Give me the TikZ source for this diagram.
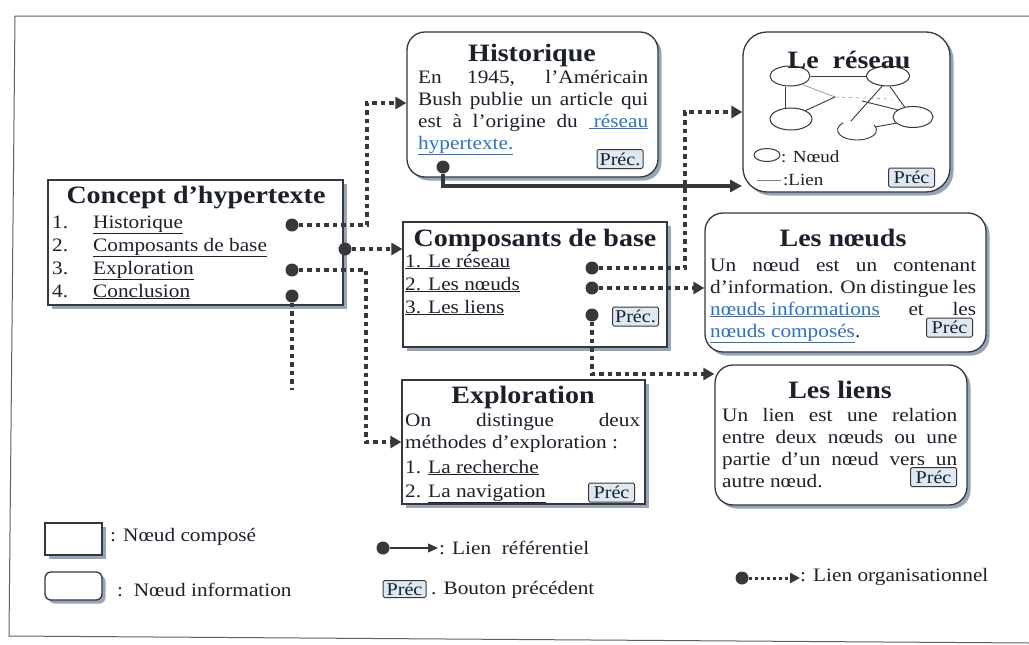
\documentclass[tikz,border=0pt]{standalone}
\usepackage{fontspec}
\setmainfont[FakeStretch=1.12]{Liberation Serif}
\usetikzlibrary{arrows.meta,shapes.geometric,shadows}

\definecolor{inkc}{RGB}{28,32,42}
\definecolor{darkc}{RGB}{55,55,60}
\definecolor{linkc}{RGB}{45,115,195}
\definecolor{btnc}{RGB}{222,233,243}
\definecolor{shadowc}{RGB}{150,165,185}
\definecolor{framec}{RGB}{95,95,95}

\newcommand\undl[1]{\underline{#1}}
\newcommand\lnk[1]{{\color{linkc}\underline{#1}}}

\tikzset{
  boxbase/.style={draw=darkc, line width=1.3pt, fill=white, inner sep=0pt,
    drop shadow={shadow xshift=3.5pt, shadow yshift=-3.5pt, fill=shadowc, opacity=1}},
  compbox/.style={boxbase, rectangle},
  infobox/.style={boxbase, rectangle, rounded corners=18pt},
  boxtitle/.style={font=\fontsize{25}{28}\selectfont\bfseries, text=inkc, inner sep=0pt},
  body/.style={font=\fontsize{19}{22}\selectfont, text=inkc, inner sep=0pt},
  para/.style={body, align=justify, anchor=base west},
  item/.style={body, anchor=base west},
  note/.style={body, anchor=west},
  btn/.style={draw=darkc, line width=1pt, fill=btnc, rounded corners=1.5pt,
    font=\fontsize{18}{20}\selectfont, text=inkc, inner sep=0pt,
    minimum width=46pt, minimum height=19pt},
  knob/.style={circle, fill=darkc, inner sep=0pt, minimum size=13pt},
  orglink/.style={draw=darkc, line width=4.5pt, dash pattern=on 4.5pt off 4pt},
  orgarrow/.style={orglink, -{Triangle[length=11pt,width=12pt]}},
  reflink/.style={draw=darkc, line width=3.5pt, -{Triangle[length=12pt,width=12pt]}},
  netnode/.style={ellipse, draw=darkc, line width=1pt, inner sep=0pt},
  netlink/.style={draw=darkc, line width=0.9pt},
}

\begin{document}
\begin{tikzpicture}[x=1pt,y=-1pt]
\useasboundingbox (0,0) rectangle (1029,645);

% outer frame
\draw[framec, line width=1pt] (1029,16) -- (15,16) -- (9,636) -- (1029,643);

% ---- Concept d'hypertexte (composed node)
\node[compbox, minimum width=295pt, minimum height=125pt] (cbox) at (195.5,242.5) {};
\node[boxtitle] (ctitle) at (196,198) {Concept d'hypertexte};
\node[item] (c1n) at (52,228) {1.};
\node[item] (c1) at (93,228) {\undl{Historique}};
\node[item] (c2n) at (52,251) {2.};
\node[item] (c2) at (93,251) {\undl{Composants de base}};
\node[item] (c3n) at (52,274) {3.};
\node[item] (c3) at (93,274) {\undl{Exploration}};
\node[item] (c4n) at (52,297) {4.};
\node[item] (c4) at (93,297) {\undl{Conclusion}};
\node[knob] (d1) at (292,225) {};
\node[knob] (d2) at (345,249) {};
\node[knob] (d3) at (292,270) {};
\node[knob] (d4) at (292,296) {};

% ---- Historique (information node)
\node[infobox, minimum width=251pt, minimum height=145pt] (hbox) at (532.5,104.5) {};
\node[boxtitle] (htitle) at (532,55) {Historique};
\node[para, text width=230pt] (hbody) at (418,83)
  {En 1945, l'Américain\linebreak Bush publie un article qui\linebreak
   est à l'origine du \lnk{\ réseau}\linebreak \lnk{hypertexte.}};
\node[btn] (hbtn) at (620,159) {Préc.};
\node[knob] (hdot) at (443,167) {};

% ---- Le réseau (information node)
\node[infobox, rounded corners=24pt, minimum width=207pt, minimum height=160pt] (rbox) at (846.5,112) {};
\node[netnode, minimum width=40pt, minimum height=20pt] (e1) at (790,76) {};
\node[netnode, minimum width=43pt, minimum height=20pt] (e2) at (888,76) {};
\node[netnode, minimum width=42pt, minimum height=22pt] (e3) at (791,119) {};
\node[netnode, minimum width=40pt, minimum height=21pt] (e5) at (913,117) {};
\coordinate (e4) at (857,130);
\coordinate (e4top) at (851,121);
\coordinate (e4right) at (875,127);
\coordinate (nc) at (835,97);
\coordinate (nc2) at (892,99);
\coordinate (nc3) at (862,101);
\draw[netlink] (e4) ++(-30:19.5 and 10) arc[start angle=-30, end angle=225, x radius=19.5, y radius=10];
\draw[netlink] (e1.east) -- (e2.west);
\draw[netlink] ([xshift=-5pt]e1.south) -- ([xshift=-6pt]e3.north);
\draw[netlink, draw=darkc!45] (e1.-35) -- (nc);
\draw[netlink] (e3.30) -- (nc);
\draw[netlink, draw=darkc!40, dash pattern=on 3pt off 4pt] (nc) -- (nc2);
\draw[netlink] (e2.-120) -- (e4top);
\draw[netlink] (e2.-80) -- (e5.130);
\draw[netlink] (nc3) -- (e5.155);
\draw[netlink] (e4right) -- (e5.200);
\node[boxtitle] (rtitle) at (849,60) {Le\ \ réseau};
\node[netnode, minimum width=26pt, minimum height=13pt] (lgell) at (767,155) {};
\node[note, font=\fontsize{17}{19}\selectfont] (lgelltxt) at (781,157) {: Nœud};
\coordinate (lgl1) at (757,180);
\coordinate (lgl2) at (781,180);
\draw[draw=gray, line width=1pt] (lgl1) -- (lgl2);
\node[note, font=\fontsize{17}{19}\selectfont] (lgltxt) at (783,180) {:Lien};
\node[btn] (rbtn) at (911.5,177.5) {Préc};

% ---- Composants de base (composed node)
\node[compbox, minimum width=264pt, minimum height=125pt] (cbbox) at (535,284.5) {};
\node[boxtitle] (cbtitle) at (535,240) {Composants de base};
\node[item] (cb1) at (405,267) {\undl{1. Le réseau}};
\node[item] (cb2) at (405,290) {\undl{2. Les nœuds}};
\node[item] (cb3) at (405,313) {\undl{3. Les liens}};
\node[knob] (nd1) at (592,268) {};
\node[knob] (nd2) at (592,288) {};
\node[knob] (nd3) at (592,315) {};
\node[btn] (cbbtn) at (635.5,316.5) {Préc.};

% ---- Les nœuds (information node)
\node[infobox, minimum width=281pt, minimum height=139pt] (nbox) at (845.5,282.5) {};
\node[boxtitle] (ntitle) at (843,238) {Les nœuds};
\node[para, text width=266pt] (nbody) at (710,271)
  {Un nœud est un contenant\linebreak d'information. On distingue les\linebreak
   \lnk{nœuds informations} et les\linebreak \lnk{nœuds composés}.};
\node[btn] (nbtn) at (949.5,327.5) {Préc};

% ---- Les liens (information node)
\node[infobox, minimum width=252pt, minimum height=140pt] (lbox) at (841,435) {};
\node[boxtitle] (ltitle) at (840,390) {Les liens};
\node[para, text width=235pt] (lbody) at (722,421)
  {Un lien est une relation\linebreak entre deux nœuds ou une\linebreak
   partie d'un nœud vers un\linebreak autre nœud.};
\node[btn] (lbtn) at (933.5,477) {Préc};

% ---- Exploration (composed node)
\node[compbox, minimum width=243pt, minimum height=124pt] (ebox) at (523.5,442) {};
\node[boxtitle] (etitle) at (523,397) {Exploration};
\node[para, text width=235pt] (ebody) at (405,426)
  {On distingue deux\linebreak méthodes d'exploration :};
\node[item] (e1t) at (405,473) {1. \undl{La recherche}};
\node[item] (e2t) at (405,497) {2. \undl{La navigation}};
\node[btn] (ebtn) at (611.5,492.5) {Préc};

% ---- organisational links
\coordinate (k1) at (685,112);
\coordinate (k2) at (367,103);
\coordinate (k3) at (366,442);
\coordinate (k4) at (292,390);
\coordinate (k5) at (592,374);
\draw[orgarrow] (d1) -| (k2) -- (hbox.west |- k2);
\draw[orgarrow] (d2) -- (cbbox.west |- d2);
\draw[orgarrow] (d3) -| (k3) -- (ebox.west |- k3);
\draw[orglink] (d4) -- (k4);
\draw[orgarrow] (nd1) -| (k1) -- (rbox.west |- k1);
\draw[orgarrow] (nd2) -- (nbox.west |- nd2);
\draw[orgarrow] (nd3) |- (lbox.west |- k5);

% ---- referential link
\coordinate (rin) at (742,186);
\draw[reflink] (hdot) |- (rin);

% ---- legend
\node[compbox, minimum width=57pt, minimum height=32pt] (lgcomp) at (73.5,539) {};
\node[note] (lgcomptxt) at (110,537) {: Nœud composé};
\node[infobox, rounded corners=6pt, minimum width=57pt, minimum height=28pt] (lginfo) at (73.5,586) {};
\node[note] (lginfotxt) at (117,590) {:\ \ Nœud information};
\node[knob] (lk1) at (383,548) {};
\coordinate (lk1e) at (438,548);
\draw[draw=darkc, line width=1.3pt, -{Triangle[length=10pt,width=9pt]}] (lk1) -- (lk1e);
\node[note] (lk1txt) at (439,548) {: Lien\ \ référentiel};
\node[btn, minimum width=43pt, minimum height=17pt] (lgbtn) at (404.5,589) {Préc};
\node[note] (lgbtntxt) at (431,590) {. Bouton précédent};
\node[knob] (lk2) at (742,578) {};
\coordinate (lk2e) at (800,578);
\draw[orglink, line width=3pt, dash pattern=on 3pt off 3pt, -{Triangle[length=10pt,width=10pt]}] (lk2) -- (lk2e);
\node[note] (lk2txt) at (800,577) {: Lien organisationnel};
\end{tikzpicture}
\end{document}
